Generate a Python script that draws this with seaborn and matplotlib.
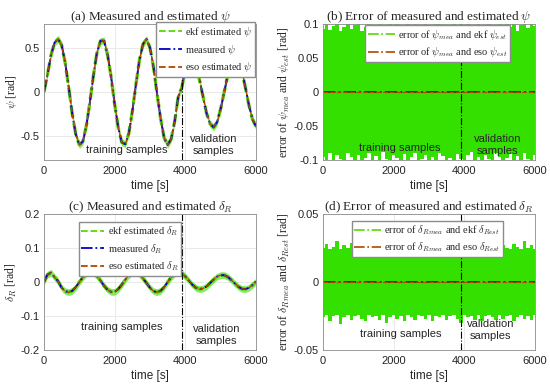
import numpy as np
import matplotlib
matplotlib.use("Agg")
import matplotlib.pyplot as plt
import seaborn as sns
import pandas as pd

# time axis [s], one sample every 100 s
time_s = list(range(0, 6001, 100))

# measured heading psi [rad]
psi_meas = [0.0, 0.2, 0.42, 0.56, 0.6, 0.53, 0.33, 0.05, -0.25, -0.48,
            -0.6, -0.56, -0.38, -0.11, 0.19, 0.45, 0.58, 0.58, 0.42, 0.17,
            -0.14, -0.4, -0.57, -0.59, -0.47, -0.22, 0.08, 0.36, 0.54, 0.6,
            0.5, 0.28, -0.02, -0.3, -0.52, -0.6, -0.53, -0.33, -0.05, 0.05,
            0.26, 0.38, 0.39, 0.31, 0.14, -0.05, -0.24, -0.36, -0.4, -0.34,
            -0.19, 0.0, 0.19, 0.34, 0.4, 0.36, 0.24, 0.05, -0.15, -0.31, -0.39]
psi_eso = psi_meas
psi_ekf_spread = 0.04

# measured rudder angle delta_R [rad]
dr_meas = [0.0, 0.022, 0.027, 0.014, 0.002, -0.017, -0.027, -0.03, -0.026, -0.015,
           0.0, 0.014, 0.025, 0.03, 0.027, 0.018, 0.004, -0.011, -0.023, -0.029,
           -0.029, -0.021, -0.008, 0.007, 0.02, 0.028, 0.03, 0.023, 0.011, -0.003,
           -0.017, -0.027, -0.03, -0.026, -0.015, 0.0, 0.014, 0.025, 0.03, 0.026,
           0.016, 0.004, -0.008, -0.017, -0.021, -0.019, -0.013, -0.003, 0.007, 0.016,
           0.02, 0.02, 0.015, 0.006, -0.004, -0.014, -0.02, -0.021, -0.017, -0.009, 0.001]
dr_eso = dr_meas
dr_ekf_spread = 0.01

# ekf error envelopes (upper / lower spikes)
err_psi_hi = [0.093, 0.1, 0.091, 0.097, 0.1, 0.089, 0.095, 0.1, 0.092, 0.098,
              0.1, 0.09, 0.096, 0.1, 0.094, 0.088, 0.1, 0.097, 0.091, 0.1,
              0.095, 0.1, 0.089, 0.098, 0.1, 0.093, 0.1, 0.096, 0.09, 0.1,
              0.097, 0.092, 0.1, 0.1, 0.094, 0.089, 0.099, 0.1, 0.093, 0.1,
              0.096, 0.1, 0.091, 0.098, 0.1, 0.095, 0.09, 0.1, 0.097, 0.093,
              0.1, 0.092, 0.1, 0.096, 0.1, 0.09, 0.098, 0.1, 0.094, 0.1, 0.097]
err_psi_lo = [-0.095, -0.1, -0.09, -0.1, -0.093, -0.098, -0.1, -0.089, -0.096, -0.1,
              -0.092, -0.1, -0.097, -0.09, -0.1, -0.094, -0.1, -0.088, -0.099, -0.1,
              -0.093, -0.097, -0.1, -0.091, -0.1, -0.095, -0.089, -0.1, -0.098, -0.092,
              -0.1, -0.096, -0.1, -0.09, -0.094, -0.1, -0.097, -0.1, -0.091, -0.099,
              -0.1, -0.093, -0.088, -0.1, -0.096, -0.1, -0.092, -0.098, -0.1, -0.09,
              -0.095, -0.1, -0.097, -0.091, -0.1, -0.094, -0.1, -0.089, -0.098, -0.1, -0.093]
err_dr_hi = [0.025, 0.028, 0.024, 0.026, 0.03, 0.024, 0.027, 0.025, 0.029, 0.024,
             0.026, 0.024, 0.028, 0.025, 0.031, 0.024, 0.026, 0.029, 0.024, 0.027,
             0.025, 0.03, 0.024, 0.026, 0.028, 0.024, 0.025, 0.029, 0.024, 0.027,
             0.024, 0.026, 0.03, 0.025, 0.024, 0.028, 0.026, 0.024, 0.029, 0.025,
             0.027, 0.024, 0.026, 0.03, 0.024, 0.025, 0.028, 0.024, 0.026, 0.029,
             0.024, 0.027, 0.025, 0.024, 0.028, 0.026, 0.024, 0.03, 0.025, 0.027, 0.024]
err_dr_lo = [-0.026, -0.024, -0.029, -0.025, -0.024, -0.031, -0.026, -0.024, -0.028, -0.025,
             -0.024, -0.027, -0.029, -0.024, -0.026, -0.025, -0.028, -0.024, -0.03, -0.026,
             -0.024, -0.027, -0.025, -0.029, -0.024, -0.026, -0.028, -0.024, -0.025, -0.027,
             -0.024, -0.029, -0.025, -0.026, -0.024, -0.028, -0.025, -0.024, -0.027, -0.03,
             -0.024, -0.026, -0.025, -0.028, -0.024, -0.029, -0.025, -0.024, -0.026, -0.028,
             -0.024, -0.027, -0.025, -0.024, -0.029, -0.026, -0.024, -0.027, -0.025, -0.028, -0.024]
eso_err_t = [0, 6000]
eso_err = [0.0, 0.0]

split_t = 3900
xticks = [0, 2000, 4000, 6000]

GREEN = "#5ad800"
GREEN_FILL = "#33e000"
BLUE = "#0000cc"
BROWN = "#b34700"
SERIF = ["Liberation Serif", "DejaVu Serif"]
SANS = ["Liberation Sans", "DejaVu Sans"]

sns.set_style("whitegrid")
plt.rcParams["font.family"] = SANS
plt.rcParams["mathtext.fontset"] = "cm"
plt.rcParams["font.size"] = 8

df_psi = pd.DataFrame({"t": time_s, "meas": psi_meas, "eso": psi_eso})
df_dr = pd.DataFrame({"t": time_s, "meas": dr_meas, "eso": dr_eso})

fig = plt.figure(figsize=(5.5, 3.9), dpi=100)
W, H = 212 / 550, 136 / 390
ax_a = fig.add_axes([44 / 550, 1 - 160 / 390, W, H])
ax_b = fig.add_axes([323 / 550, 1 - 160 / 390, W, H])
ax_c = fig.add_axes([44 / 550, 1 - 350 / 390, W, H])
ax_d = fig.add_axes([323 / 550, 1 - 350 / 390, W, H])

LEG = dict(prop={"family": SERIF, "size": 7.5}, borderpad=0.25, labelspacing=0.35,
           handletextpad=0.3, fancybox=False, framealpha=1, edgecolor="#8c8c8c")

# legend handles (thin, as in the original figure)
h_est = [plt.Line2D([], [], color=GREEN, linestyle="--", linewidth=1.3),
         plt.Line2D([], [], color=BLUE, linestyle="-.", linewidth=1.3),
         plt.Line2D([], [], color=BROWN, linestyle="--", linewidth=1.3)]
h_err = [plt.Line2D([], [], color=GREEN, linestyle="-.", linewidth=1.2),
         plt.Line2D([], [], color=BROWN, linestyle="-.", linewidth=1.2)]


def style_axes(ax, ylim, yticks, ylabel, title):
    ax.set_xlim(0, 6000)
    ax.set_ylim(*ylim)
    ax.set_xticks(xticks)
    ax.set_yticks(yticks)
    ax.set_yticklabels([("%g" % v) for v in yticks])
    ax.set_xlabel("time [s]", fontsize=8.5, labelpad=3)
    ax.set_ylabel(ylabel, family=SERIF, fontsize=8.5, labelpad=1)
    ax.set_title(title, family=SERIF, fontsize=9.5, pad=3)
    ax.grid(True, color="#e6e6e6", linewidth=0.6)
    ax.tick_params(axis="x", labelsize=8, pad=4, length=0)
    ax.tick_params(axis="y", labelsize=8, pad=3, length=0)
    for s in ax.spines.values():
        s.set_color("#8c8c8c")
        s.set_linewidth(0.6)
    ax.axvline(split_t, color="black", linestyle="-.", linewidth=0.8)


def estimate_panel(ax, df, spread):
    ax.fill_between(df["t"], df["meas"] - spread, df["meas"] + spread,
                    color=GREEN_FILL, alpha=0.6, linewidth=0)
    sns.lineplot(data=df, x="t", y="meas", ax=ax, color=GREEN, linewidth=2.4,
                 linestyle="--")
    sns.lineplot(data=df, x="t", y="meas", ax=ax, color=BLUE, linewidth=1.4,
                 linestyle="-.")
    sns.lineplot(data=df, x="t", y="eso", ax=ax, color=BROWN, linewidth=1.0,
                 linestyle="--")


def error_panel(ax, hi, lo):
    ax.fill_between(time_s, lo, hi, step="mid", color=GREEN_FILL, linewidth=0)
    sns.lineplot(x=eso_err_t, y=eso_err, ax=ax, color="#2f4a00", linewidth=1.4,
                 linestyle="-.")
    sns.lineplot(x=eso_err_t, y=eso_err, ax=ax, color=BROWN, linewidth=0.9,
                 linestyle="--")


# (a)
estimate_panel(ax_a, df_psi, psi_ekf_spread)
style_axes(ax_a, (-0.77, 0.77), [-0.5, 0, 0.5], r"$\psi$ [rad]",
           r"(a) Measured and estimated $\psi$")
ax_a.legend(h_est, [r"ekf estimated $\psi$", r"measured $\psi$", r"eso estimated $\psi$"],
            loc="upper right", bbox_to_anchor=(1.02, 1.05), handlelength=2.2, **LEG)
ax_a.text(2350, -0.66, "training samples", ha="center", va="center", fontsize=8)
ax_a.text(4790, -0.6, "validation\nsamples", ha="center", va="center", fontsize=8,
          linespacing=1.3)

# (b)
error_panel(ax_b, err_psi_hi, err_psi_lo)
style_axes(ax_b, (-0.1, 0.1), [-0.1, -0.05, 0, 0.05, 0.1],
           r"error of $\psi_{mea}$ and $\psi_{est}$ [rad]",
           r"(b) Error of measured and estimated $\psi$")
ax_b.legend(h_err, [r"error of $\psi_{mea}$ and ekf $\psi_{est}$",
                    r"error of $\psi_{mea}$ and eso $\psi_{est}$"],
            loc="upper center", bbox_to_anchor=(0.54, 1.03), handlelength=2.6, **LEG)
ax_b.text(2180, -0.082, "training samples", ha="center", va="center", fontsize=8)
ax_b.text(4940, -0.078, "validation\nsamples", ha="center", va="center", fontsize=8,
          linespacing=1.3)

# (c)
estimate_panel(ax_c, df_dr, dr_ekf_spread)
style_axes(ax_c, (-0.2, 0.2), [-0.2, -0.1, 0, 0.1, 0.2], r"$\delta_R$ [rad]",
           r"(c) Measured and estimated $\delta_R$")
ax_c.legend(h_est, [r"ekf estimated $\delta_R$", r"measured $\delta_R$",
                    r"eso estimated $\delta_R$"],
            loc="upper left", bbox_to_anchor=(0.14, 0.98), handlelength=2.2, **LEG)
ax_c.text(2200, -0.132, "training samples", ha="center", va="center", fontsize=8)
ax_c.text(4890, -0.155, "validation\nsamples", ha="center", va="center", fontsize=8,
          linespacing=1.3)

# (d)
error_panel(ax_d, err_dr_hi, err_dr_lo)
style_axes(ax_d, (-0.05, 0.05), [-0.05, 0, 0.05],
           r"error of $\delta_{Rmea}$ and $\delta_{Rest}$ [rad]",
           r"(d) Error of measured and estimated $\delta_R$")
ax_d.legend(h_err, [r"error of $\delta_{Rmea}$ and ekf $\delta_{Rest}$",
                    r"error of $\delta_{Rmea}$ and eso $\delta_{Rest}$"],
            loc="upper left", bbox_to_anchor=(0.11, 0.99), handlelength=2.6, **LEG)
ax_d.text(2210, -0.038, "training samples", ha="center", va="center", fontsize=8)
ax_d.text(4740, -0.0355, "validation\nsamples", ha="center", va="center", fontsize=8,
          linespacing=1.3)

fig.savefig("out.png", dpi=100)
